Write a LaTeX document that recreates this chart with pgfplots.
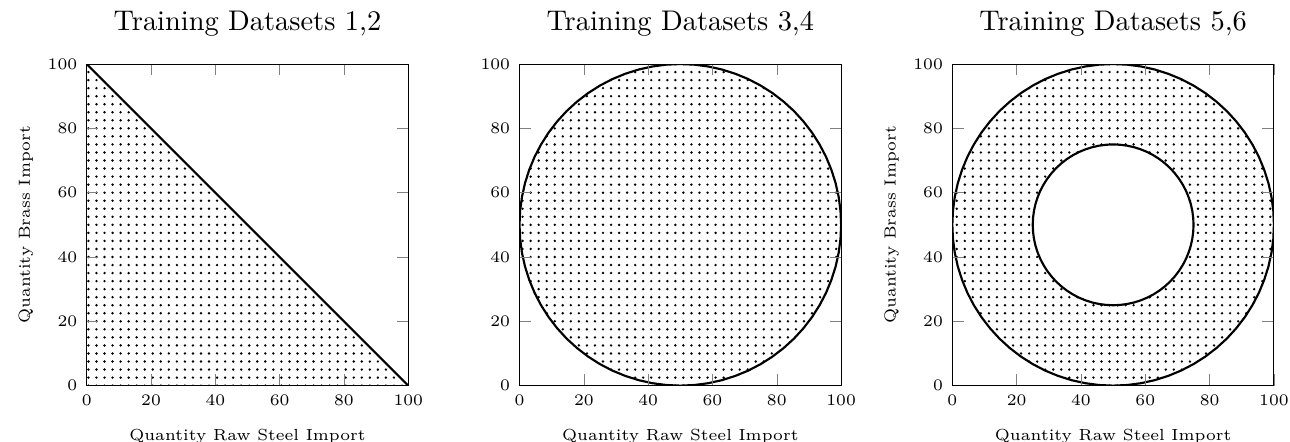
\documentclass[border=0pt]{standalone}
\usepackage{pgfplots}
\pgfplotsset{compat=1.18}
\usetikzlibrary{patterns}

% Outer boundary (circle, centre 50,50, radius 50), points every 5 degrees
\pgfplotstableread{
x y
100 50
99.81 54.36
99.24 58.68
98.30 62.94
96.98 67.10
95.32 71.13
93.30 75
90.96 78.68
88.30 82.14
85.36 85.36
82.14 88.30
78.68 90.96
75 93.30
71.13 95.32
67.10 96.98
62.94 98.30
58.68 99.24
54.36 99.81
50 100
45.64 99.81
41.32 99.24
37.06 98.30
32.90 96.98
28.87 95.32
25 93.30
21.32 90.96
17.86 88.30
14.64 85.36
11.70 82.14
9.04 78.68
6.70 75
4.68 71.13
3.02 67.10
1.70 62.94
0.76 58.68
0.19 54.36
0 50
0.19 45.64
0.76 41.32
1.70 37.06
3.02 32.90
4.68 28.87
6.70 25
9.04 21.32
11.70 17.86
14.64 14.64
17.86 11.70
21.32 9.04
25 6.70
28.87 4.68
32.90 3.02
37.06 1.70
41.32 0.76
45.64 0.19
50 0
54.36 0.19
58.68 0.76
62.94 1.70
67.10 3.02
71.13 4.68
75 6.70
78.68 9.04
82.14 11.70
85.36 14.64
88.30 17.86
90.96 21.32
93.30 25
95.32 28.87
96.98 32.90
98.30 37.06
99.24 41.32
99.81 45.64
}\outercircle

% Inner boundary (circle, centre 50,50, radius 25)
\pgfplotstableread{
x y
75 50
74.90 52.18
74.62 54.34
74.15 56.47
73.49 58.55
72.66 60.57
71.65 62.5
70.48 64.34
69.15 66.07
67.68 67.68
66.07 69.15
64.34 70.48
62.5 71.65
60.57 72.66
58.55 73.49
56.47 74.15
54.34 74.62
52.18 74.90
50 75
47.82 74.90
45.66 74.62
43.53 74.15
41.45 73.49
39.43 72.66
37.5 71.65
35.66 70.48
33.93 69.15
32.32 67.68
30.85 66.07
29.52 64.34
28.35 62.5
27.34 60.57
26.51 58.55
25.85 56.47
25.38 54.34
25.10 52.18
25 50
25.10 47.82
25.38 45.66
25.85 43.53
26.51 41.45
27.34 39.43
28.35 37.5
29.52 35.66
30.85 33.93
32.32 32.32
33.93 30.85
35.66 29.52
37.5 28.35
39.43 27.34
41.45 26.51
43.53 25.85
45.66 25.38
47.82 25.10
50 25
52.18 25.10
54.34 25.38
56.47 25.85
58.55 26.51
60.57 27.34
62.5 28.35
64.34 29.52
66.07 30.85
67.68 32.32
69.15 33.93
70.48 35.66
71.65 37.5
72.66 39.43
73.49 41.45
74.15 43.53
74.62 45.66
74.90 47.82
}\innercircle

\pgfplotsset{
  trainax/.style={
    anchor=south west,
    x=1.2pt, y=1.2pt,
    xmin=0, xmax=100, ymin=0, ymax=100,
    xtick={0,20,40,60,80,100},
    ytick={0,20,40,60,80,100},
    tick label style={font=\fontsize{6}{7}\selectfont},
    label style={font=\fontsize{6}{7}\selectfont},
    title style={font=\fontsize{10.6}{13}\selectfont, at={(0.5,1)}, anchor=base, yshift=6.5pt},
    xlabel style={at={(axis description cs:0.5,0)}, anchor=base, yshift=-20.5pt},
    ylabel style={at={(axis description cs:0,0.5)}, anchor=base, yshift=21.2pt},
    xlabel={Quantity Raw Steel Import},
    axis on top,
  },
}

\begin{document}
\begin{tikzpicture}
\begin{axis}[trainax, at={(0pt,0pt)},
  title={Training Datasets 1,2},
  ylabel={Quantity Brass Import}]
  \addplot[draw=none, pattern=dots] coordinates {(0,0) (100,0) (0,100)} -- cycle;
  \addplot[black, thick] coordinates {(0,100) (100,0)};
\end{axis}

\begin{axis}[trainax, at={(161.5pt,0pt)},
  title={Training Datasets 3,4}]
  \addplot[draw=none, pattern=dots] table {\outercircle} -- cycle;
  \addplot[black, thick] table {\outercircle} -- cycle;
\end{axis}

\begin{axis}[trainax, at={(323pt,0pt)},
  title={Training Datasets 5,6},
  ylabel={Quantity Brass Import}]
  \addplot[draw=none, pattern=dots] table {\outercircle} -- cycle;
  \addplot[draw=none, fill=white] table {\innercircle} -- cycle;
  \addplot[black, thick] table {\outercircle} -- cycle;
  \addplot[black, thick] table {\innercircle} -- cycle;
\end{axis}

\pgfresetboundingbox
\useasboundingbox (-32.35pt,-21pt) rectangle (449pt,143.9pt);
\end{tikzpicture}
\end{document}
